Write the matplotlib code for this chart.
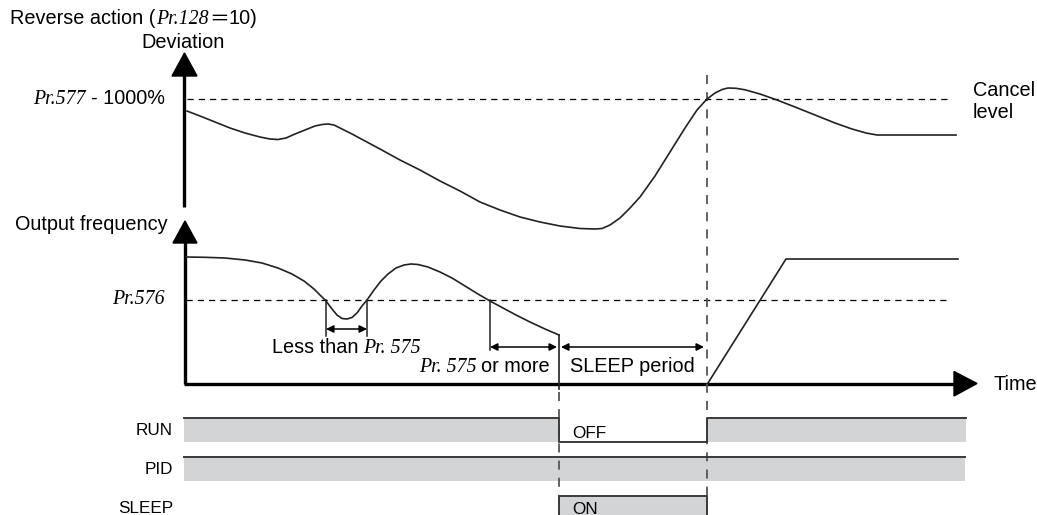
import matplotlib
matplotlib.use("Agg")
import matplotlib.pyplot as plt
from matplotlib.patches import Polygon, Rectangle

# ---------------- data (pixel units) ----------------
dev_x = [187, 200, 215, 230, 245, 260, 270, 278, 286, 295, 305, 315, 322, 328, 334,
         342, 352, 365, 380, 400, 420, 440, 460, 480, 500, 520, 540, 560, 580, 595,
         602, 610, 620, 630, 640, 655, 670, 685, 697, 707, 715, 722, 728, 736, 745,
         760, 777, 795, 815, 835, 852, 866, 877, 956]
dev_y = [111, 116, 122, 128, 133, 137, 139, 139.5, 138, 134, 130, 126, 124.5, 124, 125,
         129, 134, 141, 149, 160, 170, 181, 191, 202, 210, 217, 222, 226, 228.5, 229,
         228.5, 225, 218, 208, 197, 176, 152, 128, 110, 99, 93, 89.5, 88, 88.3, 89.8,
         94, 100, 107, 115, 123, 129, 133, 135, 135]

freq_x = [186, 205, 225, 245, 262, 278, 292, 304, 314, 320, 326, 332, 337, 342, 347,
          352, 357, 362, 367, 374, 381, 388, 396, 404, 411, 418, 428, 440, 452, 465,
          478, 490, 503, 516, 530, 545, 559]
freq_y = [257, 257.3, 258, 260, 263, 268, 274, 281, 289, 295, 301, 309, 315, 318.5, 319,
          317.5, 313, 306, 300, 290, 281, 274, 268, 265, 264, 264.5, 267, 272, 278, 286,
          294, 301, 308, 315, 322, 329, 335]

restart_x = [708, 786, 958]
restart_y = [383, 259, 259]

cancel_level = 99
sleep_level = 300
sleep_start = 559
sleep_end = 707

signal_names = ["RUN", "PID", "SLEEP"]

# ---------------- figure ----------------
W, H = 1037, 515
fig = plt.figure(figsize=(W / 100, H / 100), dpi=100)
ax = fig.add_axes([0, 0, 1, 1])
ax.set_xlim(0, W)
ax.set_ylim(H, 0)
ax.axis("off")

SANS = "Liberation Sans"
SERIF = "Liberation Serif"
FS = 14.3
renderer = fig.canvas.get_renderer()


def mixed(x, y, pieces, ha="left"):
    """pieces: list of (text, family, style, gap_before)"""
    objs = []
    widths = []
    for txt, fam, sty, gap in pieces:
        t = ax.text(0, y, txt, family=fam, style=sty, fontsize=FS, va="baseline", ha="left")
        bb = t.get_window_extent(renderer)
        widths.append(bb.width)
        objs.append((t, gap))
    total = sum(widths) + sum(g for _, g in objs)
    cx = x if ha == "left" else x - total
    for (t, gap), w in zip(objs, widths):
        cx += gap
        t.set_x(cx)
        cx += w


# axes
axis_lw = 2.4
ax.plot([184, 184], [207, 70], color="black", lw=axis_lw, solid_capstyle="butt")
ax.add_patch(Polygon([[172, 76], [197, 76], [184.5, 53]], closed=True, color="black"))
ax.plot([185, 185], [384, 240], color="black", lw=axis_lw, solid_capstyle="butt")
ax.add_patch(Polygon([[173, 243], [197, 243], [185, 221]], closed=True, color="black"))
ax.plot([184, 956], [383.5, 383.5], color="black", lw=axis_lw, solid_capstyle="butt")
ax.add_patch(Polygon([[954, 371.5], [954, 396], [977, 383.5]], closed=True, color="black"))

# levels
ax.plot([187, 950], [cancel_level, cancel_level], color="black", lw=0.9, dashes=(5, 4))
ax.plot([186, 949], [sleep_level, sleep_level], color="black", lw=0.9, dashes=(5, 4))

# vertical dashed markers
ax.plot([sleep_end, sleep_end], [75, 515], color="#555555", lw=1.3, dashes=(5, 4.5))
ax.plot([sleep_start, sleep_start], [392, 515], color="#555555", lw=1.3, dashes=(5, 4.5))

# curves
ax.plot(dev_x, dev_y, color="#222222", lw=1.2)
ax.plot(freq_x, freq_y, color="#222222", lw=1.2)
ax.plot([freq_x[-1], freq_x[-1]], [freq_y[-1], 389], color="#222222", lw=1.2)
ax.plot(restart_x, restart_y, color="#222222", lw=1.2)

# interval markers
ax.plot([326, 326], [sleep_level, 336], color="#222222", lw=1.1)
ax.plot([367, 367], [sleep_level, 336], color="#222222", lw=1.1)
ax.plot([490, 490], [sleep_level, 350], color="#222222", lw=1.1)
arrow_kw = dict(arrowstyle="<|-|>", color="black", lw=1.1, mutation_scale=11, shrinkA=0, shrinkB=0)
ax.annotate("", xy=(326, 329), xytext=(367, 329), arrowprops=arrow_kw)
ax.annotate("", xy=(490, 347), xytext=(557, 347), arrowprops=arrow_kw)
ax.annotate("", xy=(561, 347), xytext=(704, 347), arrowprops=arrow_kw)

# texts
mixed(10, 24.5, [("Reverse action (", SANS, "normal", 0), ("Pr.128", SERIF, "italic", 1),
                 ("＝", "Noto Sans CJK JP", "normal", 0), ("10)", SANS, "normal", 0)])
ax.text(183, 43, "Deviation", family=SANS, fontsize=FS, ha="center", va="center")
mixed(165, 104, [("Pr.577", SERIF, "italic", 0), ("- 1000%", SANS, "normal", 5)], ha="right")
ax.text(973, 90, "Cancel", family=SANS, fontsize=FS, ha="left", va="center")
ax.text(973, 113, "level", family=SANS, fontsize=FS, ha="left", va="center")
ax.text(15, 225, "Output frequency", family=SANS, fontsize=FS, ha="left", va="center")
ax.text(165, 300, "Pr.576", family=SERIF, style="italic", fontsize=FS, ha="right", va="center")
mixed(272, 353, [("Less than", SANS, "normal", 0), ("Pr. 575", SERIF, "italic", 5)])
mixed(550, 372, [("Pr. 575", SERIF, "italic", 0), ("or more", SANS, "normal", 5)], ha="right")
ax.text(570, 366, "SLEEP period", family=SANS, fontsize=FS, ha="left", va="center")
ax.text(993, 384, "Time", family=SANS, fontsize=FS, ha="left", va="center")

# signals
gray = "#d3d4d6"
edge = "#3a3a3a"
narrow = ["Liberation Sans Narrow", "Liberation Sans"]
SFS = 12.3
sig_top = [418, 457, 496]
sig_h = 23.5
for name, top in zip(signal_names, sig_top):
    ax.text(173, top + 12.5, name, family=narrow, fontsize=SFS, ha="right", va="center")

# RUN: on, off during sleep, on
ax.add_patch(Rectangle((184, 418), sleep_start - 184, sig_h, color=gray, lw=0))
ax.add_patch(Rectangle((sleep_end, 418), 966 - sleep_end, sig_h, color=gray, lw=0))
ax.plot([184, sleep_start, sleep_start, sleep_end, sleep_end, 966],
        [418, 418, 418 + sig_h, 418 + sig_h, 418, 418], color=edge, lw=1.4)
ax.text(572, 433, "OFF", family=narrow, fontsize=SFS, ha="left", va="center")

# PID: always on
ax.add_patch(Rectangle((184, 457), 965 - 184, sig_h, color=gray, lw=0))
ax.plot([184, 965], [457, 457], color=edge, lw=1.4)

# SLEEP: on during sleep
ax.add_patch(Rectangle((sleep_start, 496), sleep_end - sleep_start, 30, color=gray, lw=0))
ax.plot([sleep_start, sleep_start, sleep_end, sleep_end], [520, 496, 496, 520], color=edge, lw=1.4)
ax.text(572, 509, "ON", family=narrow, fontsize=SFS, ha="left", va="center")

fig.savefig("out.png", dpi=100)
